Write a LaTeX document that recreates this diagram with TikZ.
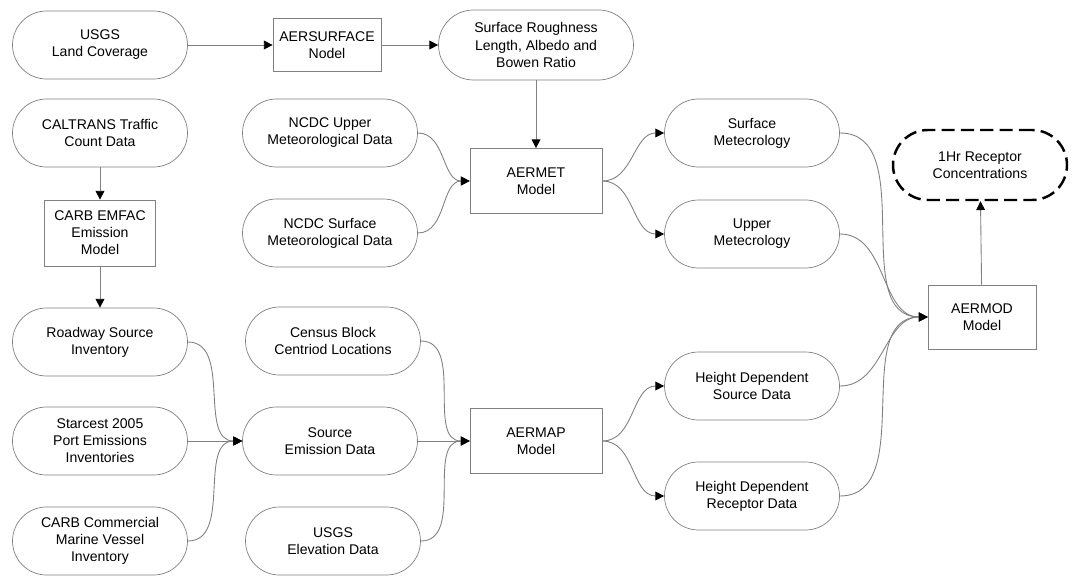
\documentclass[tikz,border=0pt]{standalone}
\usepackage{fontspec}
\setmainfont{Liberation Sans}
\usetikzlibrary{arrows.meta}

\begin{document}
\begin{tikzpicture}[
    font=\fontsize{8}{9.7}\selectfont,
    pill/.style={draw=gray, rounded corners=0.68cm, minimum width=3.5cm, minimum height=1.36cm, inner sep=0, align=center},
    box/.style={draw=gray, minimum width=2.2cm, minimum height=1.3cm, inner sep=0, align=center},
    flow/.style={draw=gray, line width=0.5pt, -{Triangle[length=5pt,width=5pt,color=black]}}]
  \useasboundingbox (0,0) rectangle (21.8,-11.52);

  \node (usgs) [pill] at (2.0,-0.9) {USGS\\Land Coverage};
  \node (aersurf) [box, minimum width=2.16cm, minimum height=1.06cm] at (6.54,-0.9) {AERSURFACE\\Nodel};
  \node (rough) [pill, minimum width=3.9cm, minimum height=1.4cm, rounded corners=0.7cm] at (10.72,-0.9) {Surface Roughness\\Length, Albedo and\\Bowen Ratio};

  \node (caltrans) [pill] at (2.0,-2.66) {CALTRANS Traffic\\Count Data};
  \node (emfac) [box, minimum width=2.22cm, minimum height=1.32cm] at (2.0,-4.66) {CARB EMFAC\\Emission\\Model};
  \node (roadway) [pill] at (2.0,-6.84) {Roadway Source\\Inventory};
  \node (starcest) [pill] at (2.0,-8.82) {Starcest 2005\\Port Emissions\\Inventories};
  \node (marine) [pill] at (2.0,-10.82) {CARB Commercial\\Marine Vessel\\Inventory};

  \node (ncdcup) [pill] at (6.6,-2.66) {NCDC Upper\\Meteorological Data};
  \node (ncdcsfc) [pill] at (6.6,-4.66) {NCDC Surface\\Meteorological Data};
  \node (aermet) [box, minimum width=2.64cm] at (10.72,-3.62) {AERMET\\Model};

  \node (census) [pill] at (6.66,-6.82) {Census Block\\Centriod Locations};
  \node (srcemis) [pill] at (6.6,-8.82) {Source\\Emission Data};
  \node (usgselev) [pill] at (6.66,-10.82) {USGS\\Elevation Data};
  \node (aermap) [box, minimum width=2.64cm] at (10.72,-8.82) {AERMAP\\Model};

  \node (sfcmet) [pill] at (15.04,-2.66) {Surface\\Metecrology};
  \node (upmet) [pill] at (15.04,-4.68) {Upper\\Metecrology};
  \node (hdsrc) [pill] at (15.04,-7.72) {Height Dependent\\Source Data};
  \node (hdrec) [pill] at (15.04,-9.92) {Height Dependent\\Receptor Data};

  \node (aermod) [box, minimum width=2.16cm, minimum height=1.28cm] at (19.64,-6.34) {AERMOD\\Model};
  \node (receptor) [pill, draw=black, line width=1.4pt, dash pattern=on 7.5pt off 3.5pt, minimum width=3.48cm, minimum height=1.4cm, rounded corners=0.7cm] at (19.6,-3.3) {1Hr Receptor\\Concentrations};

  \draw [flow] (usgs) -- (aersurf);
  \draw [flow] (aersurf) -- (rough);
  \draw [flow] (rough) -- (aermet);
  \draw [flow] (caltrans) -- (emfac);
  \draw [flow] (emfac) -- (roadway);

  \draw [flow] (ncdcup.east) to[out=0, in=180] (aermet.west);
  \draw [flow] (ncdcsfc.east) to[out=0, in=180] (aermet.west);
  \draw [flow] (aermet.east) to[out=0, in=180] (sfcmet.west);
  \draw [flow] (aermet.east) to[out=0, in=180] (upmet.west);

  \draw [flow] (roadway.east) to[out=0, in=180] (srcemis.west);
  \draw [flow] (starcest.east) -- (srcemis.west);
  \draw [flow] (marine.east) to[out=0, in=180] (srcemis.west);

  \draw [flow] (census.east) to[out=0, in=180] (aermap.west);
  \draw [flow] (srcemis.east) -- (aermap.west);
  \draw [flow] (usgselev.east) to[out=0, in=180] (aermap.west);
  \draw [flow] (aermap.east) to[out=0, in=180] (hdsrc.west);
  \draw [flow] (aermap.east) to[out=0, in=180] (hdrec.west);

  \draw [flow] (sfcmet.east) to[out=0, in=180] (aermod.west);
  \draw [flow] (upmet.east) to[out=0, in=180] (aermod.west);
  \draw [flow] (hdsrc.east) to[out=0, in=180] (aermod.west);
  \draw [flow] (hdrec.east) to[out=0, in=180] (aermod.west);
  \draw [flow] (aermod) -- (receptor);
\end{tikzpicture}
\end{document}
